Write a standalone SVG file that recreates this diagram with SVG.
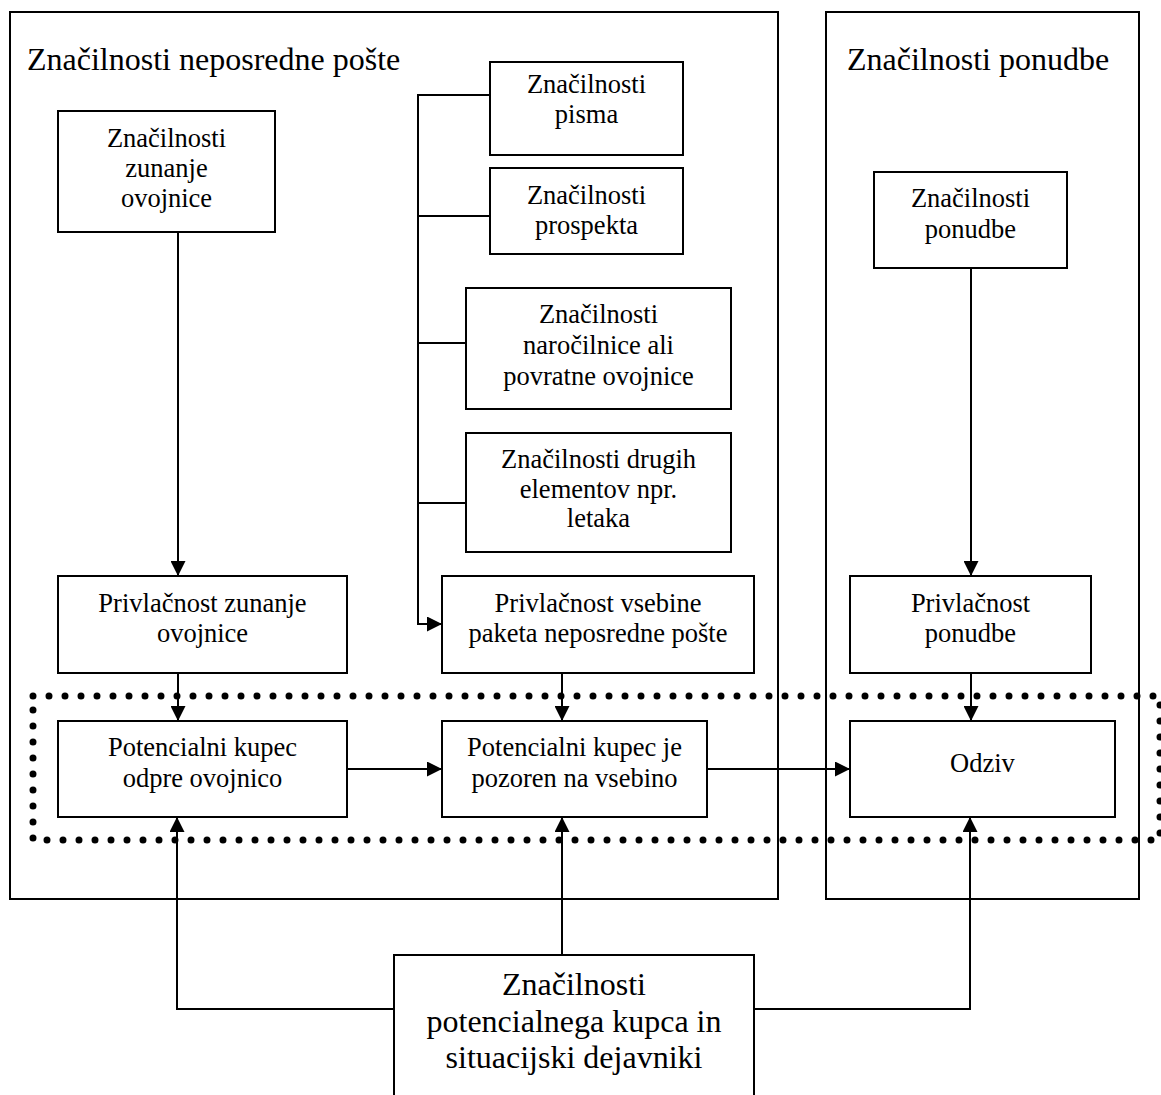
<svg xmlns="http://www.w3.org/2000/svg" width="1161" height="1095" viewBox="0 0 1161 1095">
<style>
.box{fill:#fff;stroke:#000;stroke-width:2}
.frame{fill:none;stroke:#000;stroke-width:2}
.ln{fill:none;stroke:#000;stroke-width:2}
text{font-family:"Liberation Serif","Times New Roman",serif;fill:#000}
.t{font-size:26.5px;text-anchor:middle}
.h{font-size:32px}
.b{font-size:32px;text-anchor:middle}
.dot{fill:none;stroke:#000;stroke-width:7;stroke-linecap:round;stroke-dasharray:0 16}
</style>
<defs>
<marker id="ah" markerWidth="15" markerHeight="15" refX="15" refY="7.5" orient="auto" markerUnits="userSpaceOnUse">
<path d="M0,0 L15,7.5 L0,15 Z" fill="#000"/>
</marker>
</defs>
<rect width="1161" height="1095" fill="#fff"/>
<g id="frame-posta">
<rect class="frame" x="10" y="12" width="768" height="887"/>
<text class="h" x="27" y="70">Značilnosti neposredne pošte</text>
</g>
<g id="frame-ponudba">
<rect class="frame" x="826" y="12" width="313" height="887"/>
<text class="h" x="847" y="70">Značilnosti ponudbe</text>
</g>
<g id="dotted-area">
<path class="dot" d="M33,696 H1160 V840 H33 Z"/>
</g>
<g id="connectors">
<path class="ln" d="M178,232 V576" marker-end="url(#ah)"/>
<path class="ln" d="M178,673 V721" marker-end="url(#ah)"/>
<path class="ln" d="M490,95 H418 V624 H442" marker-end="url(#ah)"/>
<path class="ln" d="M418,216 H490"/>
<path class="ln" d="M418,343 H466"/>
<path class="ln" d="M418,503 H466"/>
<path class="ln" d="M562,673 V721" marker-end="url(#ah)"/>
<path class="ln" d="M971,268 V576" marker-end="url(#ah)"/>
<path class="ln" d="M971,673 V721" marker-end="url(#ah)"/>
<path class="ln" d="M347,769 H442" marker-end="url(#ah)"/>
<path class="ln" d="M707,769 H850" marker-end="url(#ah)"/>
<path class="ln" d="M394,1009 H177 V817" marker-end="url(#ah)"/>
<path class="ln" d="M562,955 V817" marker-end="url(#ah)"/>
<path class="ln" d="M754,1009 H970 V817" marker-end="url(#ah)"/>
</g>
<g id="n-zunanje">
<rect class="box" x="58" y="111" width="217" height="121"/>
<text class="t" x="166.5" y="147">Značilnosti</text>
<text class="t" x="166.5" y="177">zunanje</text>
<text class="t" x="166.5" y="207">ovojnice</text>
</g>
<g id="n-pisma">
<rect class="box" x="490" y="62" width="193" height="93"/>
<text class="t" x="586.5" y="93">Značilnosti</text>
<text class="t" x="586.5" y="123">pisma</text>
</g>
<g id="n-prospekta">
<rect class="box" x="490" y="168" width="193" height="86"/>
<text class="t" x="586.5" y="204">Značilnosti</text>
<text class="t" x="586.5" y="234">prospekta</text>
</g>
<g id="n-narocilnice">
<rect class="box" x="466" y="288" width="265" height="121"/>
<text class="t" x="598.5" y="323">Značilnosti</text>
<text class="t" x="598.5" y="354">naročilnice ali</text>
<text class="t" x="598.5" y="385">povratne ovojnice</text>
</g>
<g id="n-drugih">
<rect class="box" x="466" y="433" width="265" height="119"/>
<text class="t" x="598.5" y="468">Značilnosti drugih</text>
<text class="t" x="598.5" y="498">elementov npr.</text>
<text class="t" x="598.5" y="527">letaka</text>
</g>
<g id="n-ponudbe">
<rect class="box" x="874" y="172" width="193" height="96"/>
<text class="t" x="970.5" y="207">Značilnosti</text>
<text class="t" x="970.5" y="238">ponudbe</text>
</g>
<g id="n-priv-zunanje">
<rect class="box" x="58" y="576" width="289" height="97"/>
<text class="t" x="202.5" y="612">Privlačnost zunanje</text>
<text class="t" x="202.5" y="642">ovojnice</text>
</g>
<g id="n-priv-vsebine">
<rect class="box" x="442" y="576" width="312" height="97"/>
<text class="t" x="598" y="612">Privlačnost vsebine</text>
<text class="t" x="598" y="642">paketa neposredne pošte</text>
</g>
<g id="n-priv-ponudbe">
<rect class="box" x="850" y="576" width="241" height="97"/>
<text class="t" x="970.5" y="612">Privlačnost</text>
<text class="t" x="970.5" y="642">ponudbe</text>
</g>
<g id="n-odpre">
<rect class="box" x="58" y="721" width="289" height="96"/>
<text class="t" x="202.5" y="756">Potencialni kupec</text>
<text class="t" x="202.5" y="787">odpre ovojnico</text>
</g>
<g id="n-pozoren">
<rect class="box" x="442" y="721" width="265" height="96"/>
<text class="t" x="574.5" y="756">Potencialni kupec je</text>
<text class="t" x="574.5" y="787">pozoren na vsebino</text>
</g>
<g id="n-odziv">
<rect class="box" x="850" y="721" width="265" height="96"/>
<text class="t" x="982.5" y="772">Odziv</text>
</g>
<g id="n-kupec">
<rect class="box" x="394" y="955" width="360" height="160"/>
<text class="b" x="574" y="995">Značilnosti</text>
<text class="b" x="574" y="1032">potencialnega kupca in</text>
<text class="b" x="574" y="1068">situacijski dejavniki</text>
</g>
</svg>
